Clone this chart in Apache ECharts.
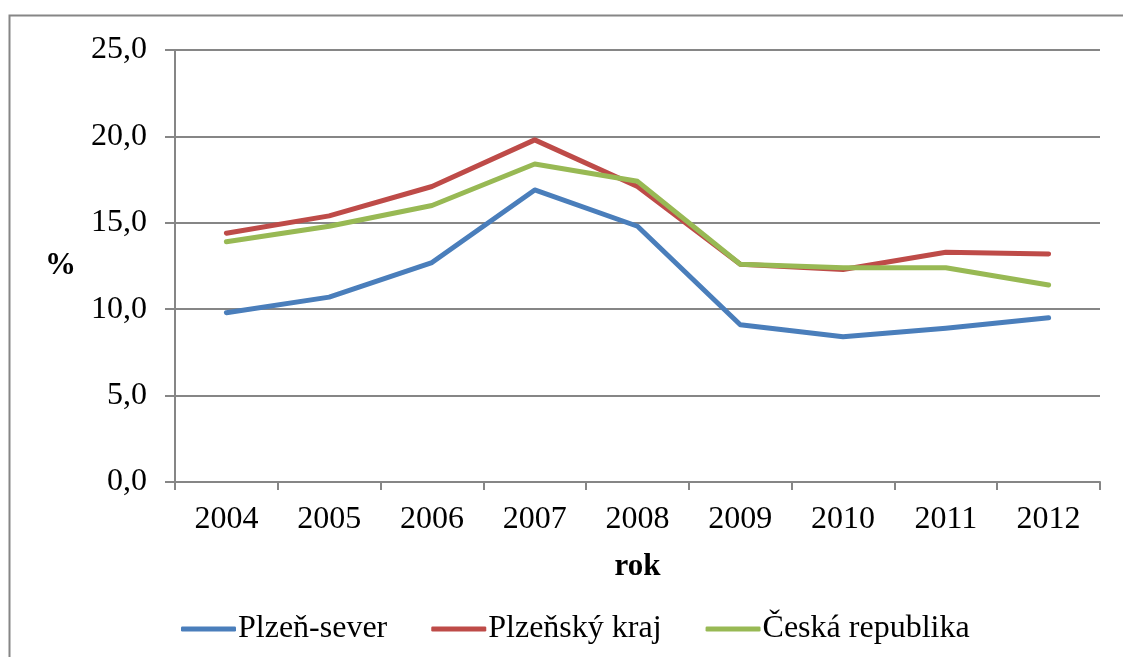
<!DOCTYPE html>
<html>
<head>
<meta charset="utf-8">
<script src="https://cdn.jsdelivr.net/npm/echarts@6/dist/echarts.min.js"></script>
<style>
  html, body { margin: 0; padding: 0; background: #fff; }
  #chart { width: 1123px; height: 657px; }
</style>
</head>
<body>
<div id="chart"></div>
<script>
  const years = ['2004', '2005', '2006', '2007', '2008', '2009', '2010', '2011', '2012'];
  const plzenSever = [9.8, 10.7, 12.7, 16.9, 14.8, 9.1, 8.4, 8.9, 9.5];
  const plzenskyKraj = [14.4, 15.4, 17.1, 19.8, 17.1, 12.6, 12.3, 13.3, 13.2];
  const ceskaRepublika = [13.9, 14.8, 16.0, 18.4, 17.4, 12.6, 12.4, 12.4, 11.4];

  const font = '"Liberation Serif", "Times New Roman", serif';
  const grey = '#868686';

  const myChart = echarts.init(document.getElementById('chart'));

  function line(name, data, color) {
    return {
      name: name,
      type: 'line',
      data: data,
      symbol: 'none',
      lineStyle: { color: color, width: 5, cap: 'round', join: 'round' },
      itemStyle: { color: color },
      animation: false
    };
  }

  const option = {
    backgroundColor: '#fff',
    textStyle: { fontFamily: font },
    graphic: [{
      type: 'rect',
      shape: { x: 9.5, y: 15.5, width: 1200, height: 800 },
      style: { fill: 'none', stroke: grey, lineWidth: 2 },
      silent: true
    }],
    grid: { left: 175, right: 23, top: 50, bottom: 175 },
    legend: {
      top: 608,
      left: 176,
      icon: 'roundRect',
      itemWidth: 55,
      itemHeight: 5,
      itemGap: 44,
      textStyle: { fontFamily: font, fontSize: 32, color: '#000', padding: [0, 0, 0, -3] },
      data: ['Plzeň-sever', 'Plzeňský kraj', 'Česká republika']
    },
    xAxis: {
      type: 'category',
      data: years,
      name: 'rok',
      nameLocation: 'middle',
      nameGap: 69,
      nameTextStyle: { fontFamily: font, fontSize: 31, fontWeight: 'bold', color: '#000' },
      axisLine: { lineStyle: { color: grey, width: 2 } },
      axisTick: { show: true, length: 8, lineStyle: { color: grey, width: 2 } },
      axisLabel: { fontFamily: font, fontSize: 32, color: '#000', margin: 22 }
    },
    yAxis: {
      type: 'value',
      min: 0,
      max: 25,
      interval: 5,
      name: '%',
      nameLocation: 'middle',
      nameRotate: 0,
      nameGap: 99,
      nameTextStyle: { fontFamily: font, fontSize: 31, fontWeight: 'bold', color: '#000' },
      axisLine: { show: true, lineStyle: { color: grey, width: 2 } },
      axisTick: { show: true, length: 10, lineStyle: { color: grey, width: 2 } },
      splitLine: { lineStyle: { color: grey, width: 2 } },
      axisLabel: {
        fontFamily: font, fontSize: 32, color: '#000', margin: 28,
        formatter: function (v) { return v.toFixed(1).replace('.', ','); }
      }
    },
    series: [
      line('Plzeň-sever', plzenSever, '#4a7ebb'),
      line('Plzeňský kraj', plzenskyKraj, '#be4b48'),
      line('Česká republika', ceskaRepublika, '#98b954')
    ]
  };

  myChart.setOption(option);
</script>
</body>
</html>
